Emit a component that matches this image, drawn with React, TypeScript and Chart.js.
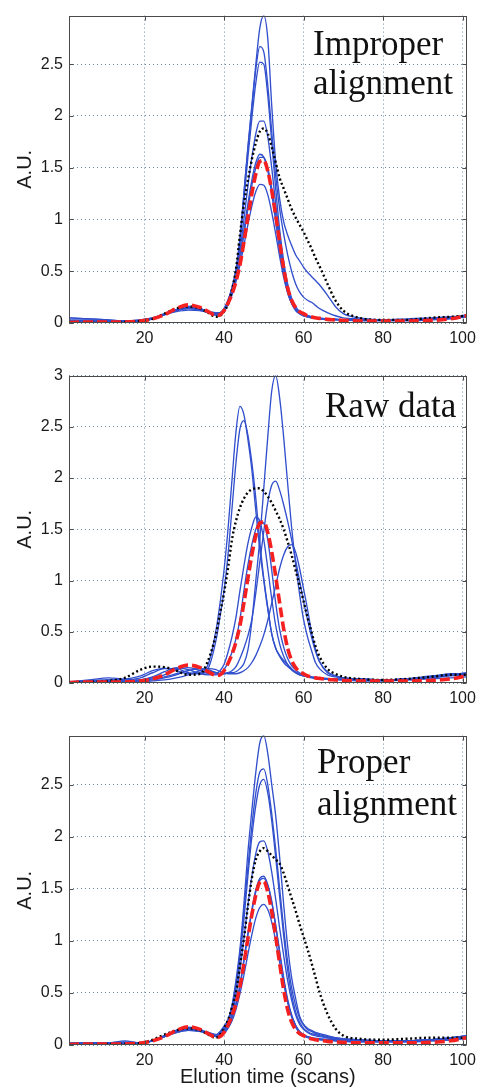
import React, { useEffect, useRef } from 'react';
import { Chart, registerables } from 'chart.js';

Chart.register(...registerables);

// ---------- data ----------
const SCANS = [1, 6, 11, 15, 19, 22, 25, 28, 31, 34, 36, 38, 39, 40, 41, 42, 43, 44, 45, 46, 47, 48, 49, 50, 51, 52, 53, 54, 55, 56, 57, 58, 59, 60, 61, 62, 63, 64, 66, 68, 70, 74, 80, 86, 92, 97, 101];
const X_TICKS = [20, 40, 60, 80, 100];
const Y_TICKS_25 = [0, 0.5, 1, 1.5, 2, 2.5];
const Y_TICKS_30 = [0, 0.5, 1, 1.5, 2, 2.5, 3];

// reference chromatogram (red dashed), same in every panel
const REFERENCE = [0.005, 0.01, 0.01, 0.01, 0.02, 0.04, 0.08, 0.14, 0.175, 0.15, 0.11, 0.075, 0.08, 0.12, 0.19, 0.28, 0.40, 0.56, 0.78, 1.02, 1.25, 1.44, 1.56, 1.57, 1.47, 1.28, 1.04, 0.78, 0.53, 0.34, 0.22, 0.15, 0.11, 0.09, 0.07, 0.06, 0.05, 0.045, 0.035, 0.03, 0.025, 0.02, 0.02, 0.02, 0.025, 0.04, 0.07];

// Improper alignment
const IMP_BLACK = [0.0, 0.0, 0.0, 0.01, 0.02, 0.04, 0.09, 0.14, 0.16, 0.14, 0.1, 0.06, 0.07, 0.11, 0.18, 0.32, 0.52, 0.85, 1.15, 1.38, 1.58, 1.74, 1.85, 1.88, 1.83, 1.7, 1.55, 1.4, 1.3, 1.2, 1.1, 1.02, 0.95, 0.88, 0.8, 0.72, 0.63, 0.55, 0.38, 0.22, 0.12, 0.05, 0.03, 0.03, 0.05, 0.06, 0.07];
const IMP_S1 = [0.05, 0.04, 0.03, 0.02, 0.03, 0.05, 0.08, 0.11, 0.125, 0.12, 0.11, 0.1, 0.1, 0.14, 0.22, 0.34, 0.5, 0.8, 1.25, 1.7, 2.1, 2.5, 2.85, 2.97, 2.75, 2.1, 1.55, 1.2, 0.98, 0.85, 0.75, 0.66, 0.6, 0.54, 0.49, 0.45, 0.41, 0.37, 0.27, 0.16, 0.09, 0.05, 0.03, 0.03, 0.04, 0.05, 0.07];
const IMP_S2 = [0.03, 0.03, 0.02, 0.02, 0.03, 0.05, 0.09, 0.13, 0.15, 0.13, 0.1, 0.09, 0.1, 0.14, 0.22, 0.34, 0.52, 0.82, 1.25, 1.68, 2.08, 2.45, 2.67, 2.62, 2.3, 1.85, 1.42, 1.1, 0.86, 0.66, 0.5, 0.38, 0.3, 0.25, 0.22, 0.2, 0.17, 0.14, 0.1, 0.07, 0.05, 0.04, 0.03, 0.03, 0.04, 0.05, 0.06];
const IMP_S3 = [0.05, 0.04, 0.03, 0.02, 0.02, 0.04, 0.08, 0.12, 0.14, 0.12, 0.1, 0.08, 0.09, 0.13, 0.2, 0.32, 0.5, 0.78, 1.18, 1.6, 1.98, 2.32, 2.52, 2.5, 2.2, 1.75, 1.3, 0.9, 0.6, 0.38, 0.24, 0.16, 0.11, 0.08, 0.07, 0.06, 0.05, 0.05, 0.04, 0.04, 0.03, 0.03, 0.03, 0.03, 0.04, 0.05, 0.07];
const IMP_S4 = [0.02, 0.02, 0.02, 0.02, 0.02, 0.04, 0.08, 0.13, 0.15, 0.13, 0.1, 0.08, 0.09, 0.13, 0.2, 0.31, 0.47, 0.7, 1.0, 1.32, 1.6, 1.83, 1.95, 1.95, 1.8, 1.5, 1.15, 0.82, 0.55, 0.35, 0.22, 0.14, 0.1, 0.08, 0.065, 0.055, 0.05, 0.045, 0.04, 0.035, 0.03, 0.03, 0.03, 0.03, 0.04, 0.05, 0.06];
const IMP_S5 = [0.01, 0.01, 0.01, 0.01, 0.02, 0.04, 0.08, 0.13, 0.16, 0.14, 0.1, 0.08, 0.09, 0.12, 0.19, 0.3, 0.45, 0.65, 0.9, 1.15, 1.38, 1.55, 1.63, 1.6, 1.47, 1.25, 0.98, 0.7, 0.47, 0.3, 0.19, 0.12, 0.09, 0.07, 0.06, 0.05, 0.045, 0.04, 0.035, 0.03, 0.03, 0.02, 0.02, 0.02, 0.03, 0.04, 0.06];
const IMP_S6 = [0.02, 0.02, 0.01, 0.01, 0.02, 0.04, 0.08, 0.13, 0.16, 0.14, 0.1, 0.08, 0.09, 0.12, 0.18, 0.28, 0.42, 0.6, 0.85, 1.1, 1.33, 1.5, 1.6, 1.6, 1.5, 1.3, 1.05, 0.78, 0.52, 0.33, 0.2, 0.13, 0.09, 0.07, 0.06, 0.05, 0.045, 0.04, 0.035, 0.03, 0.03, 0.03, 0.03, 0.03, 0.04, 0.05, 0.08];
const IMP_S7 = [0.02, 0.02, 0.02, 0.02, 0.02, 0.04, 0.08, 0.12, 0.14, 0.13, 0.11, 0.09, 0.1, 0.12, 0.18, 0.27, 0.4, 0.56, 0.75, 0.95, 1.13, 1.27, 1.34, 1.33, 1.24, 1.07, 0.86, 0.64, 0.44, 0.29, 0.19, 0.13, 0.1, 0.08, 0.07, 0.06, 0.05, 0.045, 0.04, 0.035, 0.03, 0.03, 0.03, 0.04, 0.05, 0.06, 0.07];

// Raw data
const RAW_BLACK = [0.0, 0.01, 0.02, 0.05, 0.13, 0.16, 0.155, 0.12, 0.08, 0.09, 0.22, 0.48, 0.68, 0.88, 1.12, 1.4, 1.58, 1.71, 1.8, 1.86, 1.89, 1.9, 1.9, 1.87, 1.82, 1.76, 1.68, 1.6, 1.5, 1.38, 1.25, 1.1, 0.95, 0.8, 0.64, 0.5, 0.36, 0.26, 0.14, 0.09, 0.06, 0.04, 0.03, 0.04, 0.06, 0.08, 0.08];
const RAW_S1 = [0.0, 0.0, 0.01, 0.01, 0.02, 0.03, 0.05, 0.08, 0.12, 0.14, 0.12, 0.1, 0.09, 0.09, 0.1, 0.1, 0.11, 0.14, 0.19, 0.32, 0.6, 1.0, 1.4, 1.9, 2.4, 2.85, 3.0, 2.78, 2.4, 1.95, 1.52, 1.17, 0.87, 0.62, 0.45, 0.32, 0.2, 0.14, 0.08, 0.06, 0.05, 0.04, 0.03, 0.04, 0.07, 0.08, 0.08];
const RAW_S2 = [0.01, 0.03, 0.05, 0.04, 0.07, 0.12, 0.145, 0.12, 0.09, 0.1, 0.18, 0.52, 0.78, 1.1, 1.5, 1.98, 2.45, 2.7, 2.62, 2.38, 2.08, 1.68, 1.3, 1.0, 0.72, 0.48, 0.34, 0.27, 0.22, 0.18, 0.14, 0.11, 0.09, 0.08, 0.07, 0.06, 0.055, 0.05, 0.045, 0.04, 0.04, 0.035, 0.03, 0.04, 0.06, 0.08, 0.09];
const RAW_S3 = [0.01, 0.02, 0.03, 0.03, 0.05, 0.1, 0.14, 0.14, 0.1, 0.09, 0.14, 0.42, 0.65, 0.9, 1.25, 1.7, 2.15, 2.48, 2.56, 2.42, 2.15, 1.8, 1.38, 1.02, 0.74, 0.48, 0.34, 0.26, 0.2, 0.16, 0.13, 0.1, 0.08, 0.07, 0.06, 0.055, 0.05, 0.045, 0.04, 0.04, 0.035, 0.03, 0.03, 0.04, 0.06, 0.08, 0.08];
const RAW_S4 = [0.01, 0.01, 0.01, 0.02, 0.02, 0.04, 0.06, 0.09, 0.12, 0.14, 0.13, 0.1, 0.09, 0.09, 0.1, 0.12, 0.16, 0.24, 0.34, 0.46, 0.62, 0.88, 1.18, 1.48, 1.76, 1.93, 1.97, 1.88, 1.74, 1.58, 1.4, 1.2, 1.0, 0.8, 0.62, 0.45, 0.31, 0.21, 0.11, 0.07, 0.05, 0.04, 0.03, 0.03, 0.05, 0.07, 0.08];
const RAW_S5 = [0.01, 0.01, 0.02, 0.02, 0.03, 0.06, 0.11, 0.15, 0.13, 0.09, 0.08, 0.09, 0.12, 0.18, 0.3, 0.45, 0.64, 0.9, 1.14, 1.36, 1.52, 1.62, 1.58, 1.4, 1.12, 0.82, 0.56, 0.38, 0.26, 0.18, 0.13, 0.1, 0.08, 0.07, 0.06, 0.05, 0.045, 0.04, 0.035, 0.03, 0.03, 0.02, 0.02, 0.03, 0.04, 0.05, 0.06];
const RAW_S6 = [0.01, 0.02, 0.03, 0.03, 0.03, 0.05, 0.08, 0.13, 0.15, 0.12, 0.09, 0.08, 0.09, 0.13, 0.2, 0.3, 0.43, 0.62, 0.9, 1.15, 1.35, 1.5, 1.58, 1.56, 1.4, 1.1, 0.78, 0.52, 0.35, 0.24, 0.17, 0.13, 0.1, 0.08, 0.07, 0.06, 0.05, 0.045, 0.04, 0.035, 0.03, 0.03, 0.03, 0.04, 0.06, 0.08, 0.1];
const RAW_S7 = [0.0, 0.0, 0.01, 0.01, 0.01, 0.02, 0.03, 0.05, 0.08, 0.12, 0.14, 0.13, 0.11, 0.1, 0.09, 0.09, 0.09, 0.1, 0.12, 0.15, 0.2, 0.27, 0.36, 0.47, 0.61, 0.78, 0.95, 1.12, 1.25, 1.33, 1.35, 1.28, 1.12, 0.92, 0.72, 0.5, 0.33, 0.21, 0.1, 0.07, 0.05, 0.04, 0.03, 0.04, 0.06, 0.09, 0.09];

// Proper alignment
const PROP_BLACK = [0.0, 0.0, 0.01, 0.01, 0.02, 0.05, 0.1, 0.14, 0.16, 0.14, 0.1, 0.07, 0.1, 0.16, 0.24, 0.36, 0.5, 0.76, 1.02, 1.33, 1.6, 1.78, 1.86, 1.89, 1.86, 1.82, 1.78, 1.74, 1.65, 1.53, 1.41, 1.29, 1.16, 1.04, 0.92, 0.79, 0.65, 0.51, 0.3, 0.16, 0.09, 0.06, 0.05, 0.06, 0.07, 0.07, 0.07];
const PROP_S1 = [0.01, 0.02, 0.02, 0.04, 0.02, 0.04, 0.08, 0.12, 0.14, 0.13, 0.12, 0.1, 0.13, 0.18, 0.24, 0.38, 0.62, 0.92, 1.35, 1.85, 2.25, 2.62, 2.9, 2.97, 2.8, 2.5, 2.2, 1.8, 1.35, 0.95, 0.65, 0.45, 0.28, 0.2, 0.16, 0.14, 0.12, 0.11, 0.09, 0.07, 0.06, 0.05, 0.04, 0.04, 0.05, 0.07, 0.09];
const PROP_S2 = [0.02, 0.02, 0.02, 0.02, 0.02, 0.04, 0.08, 0.13, 0.15, 0.14, 0.12, 0.1, 0.12, 0.17, 0.24, 0.37, 0.58, 0.88, 1.28, 1.7, 2.1, 2.42, 2.62, 2.65, 2.5, 2.22, 1.88, 1.5, 1.12, 0.8, 0.55, 0.38, 0.26, 0.19, 0.15, 0.13, 0.11, 0.1, 0.08, 0.07, 0.06, 0.05, 0.04, 0.04, 0.05, 0.07, 0.08];
const PROP_S3 = [0.01, 0.01, 0.02, 0.03, 0.02, 0.04, 0.08, 0.13, 0.15, 0.13, 0.11, 0.09, 0.11, 0.15, 0.22, 0.34, 0.54, 0.83, 1.2, 1.62, 2.0, 2.3, 2.5, 2.55, 2.42, 2.15, 1.8, 1.42, 1.05, 0.72, 0.48, 0.32, 0.22, 0.16, 0.13, 0.11, 0.1, 0.09, 0.07, 0.06, 0.05, 0.045, 0.04, 0.04, 0.05, 0.06, 0.08];
const PROP_S4 = [0.01, 0.01, 0.02, 0.02, 0.02, 0.04, 0.09, 0.14, 0.16, 0.14, 0.11, 0.09, 0.1, 0.14, 0.2, 0.3, 0.47, 0.72, 1.02, 1.34, 1.62, 1.84, 1.95, 1.96, 1.86, 1.66, 1.4, 1.12, 0.86, 0.62, 0.43, 0.29, 0.2, 0.15, 0.12, 0.1, 0.09, 0.08, 0.07, 0.06, 0.05, 0.04, 0.04, 0.04, 0.05, 0.06, 0.08];
const PROP_S5 = [0.01, 0.01, 0.01, 0.02, 0.02, 0.04, 0.09, 0.14, 0.17, 0.15, 0.11, 0.08, 0.09, 0.12, 0.18, 0.27, 0.4, 0.58, 0.82, 1.07, 1.3, 1.49, 1.6, 1.62, 1.54, 1.38, 1.15, 0.9, 0.65, 0.44, 0.29, 0.19, 0.13, 0.1, 0.08, 0.07, 0.06, 0.055, 0.05, 0.04, 0.035, 0.03, 0.03, 0.03, 0.04, 0.05, 0.07];
const PROP_S6 = [0.01, 0.01, 0.01, 0.01, 0.02, 0.04, 0.08, 0.14, 0.16, 0.14, 0.1, 0.08, 0.09, 0.12, 0.17, 0.26, 0.38, 0.55, 0.8, 1.05, 1.28, 1.47, 1.58, 1.6, 1.53, 1.37, 1.14, 0.88, 0.63, 0.42, 0.27, 0.17, 0.12, 0.09, 0.07, 0.06, 0.055, 0.05, 0.045, 0.04, 0.035, 0.03, 0.03, 0.03, 0.04, 0.05, 0.06];
const PROP_S7 = [0.02, 0.02, 0.02, 0.02, 0.02, 0.04, 0.08, 0.12, 0.14, 0.13, 0.11, 0.09, 0.09, 0.11, 0.16, 0.23, 0.34, 0.49, 0.67, 0.87, 1.06, 1.22, 1.32, 1.35, 1.3, 1.18, 1.0, 0.79, 0.59, 0.41, 0.28, 0.19, 0.13, 0.1, 0.08, 0.07, 0.065, 0.06, 0.055, 0.05, 0.05, 0.045, 0.04, 0.04, 0.05, 0.07, 0.09];

// ---------- styling ----------
const BLUE = 'rgb(50, 80, 205)';
const RED = 'rgb(245, 32, 32)';
const GRID = 'rgba(95, 125, 155, 0.9)';
const BOX = '#4a4a4a';
const SANS = '"Liberation Sans", Arial, sans-serif';
const SERIF = '"Liberation Serif", "Times New Roman", serif';

type PanelProps = {
  top: number;
  height: number;
  padTop: number;
  xAxisH: number;
  yMax: number;
  yTicks: number[];
  black: number[];
  samples: number[][];
  title: string[];
  titleX: number;
  titleBaselines: number[];
  xTitle?: string;
};

function pts(ys: number[]) {
  return SCANS.map((x, i) => ({ x, y: ys[i] }));
}

function Panel(p: PanelProps) {
  const ref = useRef<HTMLCanvasElement | null>(null);
  useEffect(() => {
    const canvas = ref.current;
    if (!canvas) return;
    const common = { pointRadius: 0, fill: false, cubicInterpolationMode: 'monotone' as const, borderCapStyle: 'butt' as const };
    const datasets: any[] = [
      { ...common, label: 'reference', data: pts(REFERENCE), borderColor: RED, borderWidth: 3.6, borderDash: [10, 4] },
      { ...common, label: 'black', data: pts(p.black), borderColor: '#000', borderWidth: 2.4, borderDash: [2, 2.6] },
      ...p.samples.map((s, i) => ({ ...common, label: 'sample ' + (i + 1), data: pts(s), borderColor: BLUE, borderWidth: 1.35 })),
    ];
    const overlay = {
      id: 'overlay',
      afterDraw(chart: any) {
        const { ctx, chartArea } = chart;
        const { left, right, top, bottom } = chartArea;
        const xs = chart.scales.x;
        const ys = chart.scales.y;
        ctx.save();
        ctx.strokeStyle = BOX;
        ctx.lineWidth = 1;
        ctx.setLineDash([]);
        const L = Math.round(left) + 0.5, R = Math.round(right) - 0.5, T = Math.round(top) + 0.5, B = Math.round(bottom) - 0.5;
        ctx.strokeRect(L, T, R - L, B - T);
        ctx.beginPath();
        X_TICKS.forEach((v) => {
          const px = Math.round(xs.getPixelForValue(v)) + 0.5;
          ctx.moveTo(px, B); ctx.lineTo(px, B - 4);
          ctx.moveTo(px, T); ctx.lineTo(px, T + 4);
        });
        p.yTicks.forEach((v) => {
          const py = Math.round(ys.getPixelForValue(v)) + 0.5;
          ctx.moveTo(L, py); ctx.lineTo(L + 4, py);
          ctx.moveTo(R, py); ctx.lineTo(R - 4, py);
        });
        ctx.stroke();
        // panel title
        ctx.fillStyle = '#111';
        ctx.font = '35px ' + SERIF;
        ctx.textAlign = 'left';
        ctx.textBaseline = 'alphabetic';
        p.title.forEach((line, i) => ctx.fillText(line, p.titleX, p.titleBaselines[i] - p.top));
        // y axis label
        ctx.font = '20px ' + SANS;
        ctx.fillStyle = '#1a1a1a';
        ctx.save();
        ctx.translate(25, (top + bottom) / 2);
        ctx.rotate(-Math.PI / 2);
        ctx.textAlign = 'center';
        ctx.textBaseline = 'middle';
        ctx.fillText('A.U.', 0, 0);
        ctx.restore();
        if (p.xTitle) {
          ctx.textAlign = 'center';
          ctx.textBaseline = 'alphabetic';
          ctx.fillText(p.xTitle, (left + right) / 2, bottom + 38);
        }
        ctx.restore();
      },
    };
    const chart = new Chart(canvas, {
      type: 'line',
      data: { datasets },
      options: {
        animation: false,
        responsive: false,
        maintainAspectRatio: false,
        layout: { padding: { top: p.padTop, right: 12, left: 0, bottom: 0 } },
        plugins: { legend: { display: false }, tooltip: { enabled: false } },
        scales: {
          x: {
            type: 'linear',
            min: 1,
            max: 101,
            afterBuildTicks: (axis: any) => { axis.ticks = X_TICKS.map((value) => ({ value })); },
            afterFit: (axis: any) => { axis.height = p.xAxisH; },
            ticks: { font: { size: 16, family: SANS }, color: '#1a1a1a', padding: 6, maxRotation: 0, autoSkip: false, callback: (v: any) => String(v) },
            grid: { color: GRID, lineWidth: 1, drawTicks: false },
            border: { display: false, dash: [1, 3] },
          },
          y: {
            type: 'linear',
            min: 0,
            max: p.yMax,
            afterBuildTicks: (axis: any) => { axis.ticks = p.yTicks.map((value) => ({ value })); },
            afterFit: (axis: any) => { axis.width = 69; },
            ticks: { font: { size: 16, family: SANS }, color: '#1a1a1a', padding: 6, autoSkip: false, callback: (v: any) => String(v) },
            grid: { color: GRID, lineWidth: 1, drawTicks: false },
            border: { display: false, dash: [1, 3] },
          },
        },
      },
      plugins: [overlay],
    });
    return () => chart.destroy();
  }, []);
  return (
    <canvas
      ref={ref}
      width={482}
      height={p.height}
      style={{ position: 'absolute', left: 0, top: p.top, width: 482, height: p.height }}
    />
  );
}

export default function App() {
  return (
    <div style={{ position: 'absolute', left: 0, top: 0, width: 482, height: 1089, background: '#fff', overflow: 'hidden' }}>
      <Panel top={0} height={360} padTop={14} xAxisH={37} yMax={2.97} yTicks={Y_TICKS_25}
        black={IMP_BLACK} samples={[IMP_S1, IMP_S2, IMP_S3, IMP_S4, IMP_S5, IMP_S6, IMP_S7]}
        title={['Improper', 'alignment']} titleX={313} titleBaselines={[55, 94]} />
      <Panel top={360} height={360} padTop={15} xAxisH={37} yMax={3} yTicks={Y_TICKS_30}
        black={RAW_BLACK} samples={[RAW_S1, RAW_S2, RAW_S3, RAW_S4, RAW_S5, RAW_S6, RAW_S7]}
        title={['Raw data']} titleX={325} titleBaselines={[417]} />
      <Panel top={720} height={369} padTop={15} xAxisH={44} yMax={2.97} yTicks={Y_TICKS_25}
        black={PROP_BLACK} samples={[PROP_S1, PROP_S2, PROP_S3, PROP_S4, PROP_S5, PROP_S6, PROP_S7]}
        title={['Proper', 'alignment']} titleX={317} titleBaselines={[773, 815]} xTitle="Elution time (scans)" />
    </div>
  );
}
